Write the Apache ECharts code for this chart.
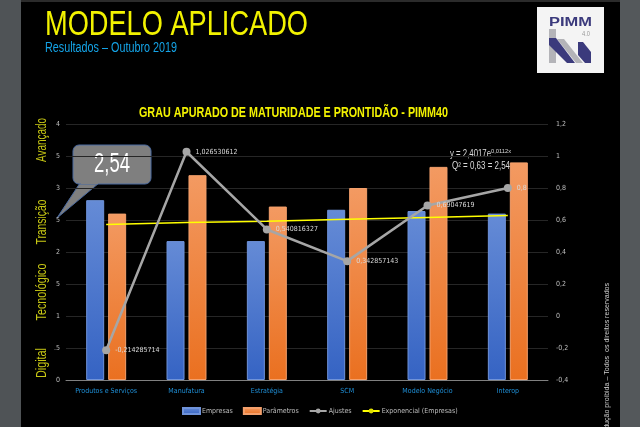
<!DOCTYPE html>
<html>
<head>
<meta charset="utf-8">
<script src="https://cdn.jsdelivr.net/npm/echarts@6/dist/echarts.min.js"></script>
<style>
html,body{margin:0;padding:0;background:#000;}
#c{width:640px;height:427px;}
</style>
</head>
<body>
<div id="c"></div>
<script>
const categories = ['Produtos e Serviços','Manufatura','Estratégia','SCM','Modelo Negócio','Interop'];
const empresas = [2.81, 2.17, 2.17, 2.66, 2.64, 2.60];
const parametros = [2.60, 3.20, 2.71, 3.00, 3.33, 3.40];
const ajustes = [-0.214285714, 1.026530612, 0.540816327, 0.342857143, 0.69047619, 0.8];
const exponencial = [2.43, 2.46, 2.48, 2.51, 2.54, 2.57];
const leftTickLabels = ['0', '.5', '1', '5', '2', '5', '3', '5', '4'];
const levelLabels = ['Avançado', 'Transição', 'Tecnológico', 'Digital'];

// --- font helpers ---
const mctx = document.createElement('canvas').getContext('2d');
function measure(text, font) { mctx.font = font; return mctx.measureText(text).width; }
function hasFont(name) {
  const s = 'abcdefghijMWLQ0123';
  const a = measure(s, '20px monospace'), b = measure(s, '20px serif');
  return measure(s, '20px "' + name + '", monospace') !== a && measure(s, '20px "' + name + '", serif') !== b;
}
const condensedCandidates = ['Liberation Sans Narrow', 'DejaVu Sans Condensed', 'Roboto Condensed', 'Open Sans Condensed', 'Arial Narrow'];
let COND = null;
for (const n of condensedCandidates) { if (hasFont(n)) { COND = n; break; } }
const SMALL = COND ? '"' + COND + '"' : '"Liberation Sans"';
const BASE = '"Liberation Sans", Arial, sans-serif';
function sizeFor(text, width, family, lo, hi) {
  const w10 = measure(text, '10px ' + family);
  return Math.max(lo, Math.min(hi, 10 * width / w10));
}
const catSize = sizeFor('Produtos e Serviços', 60, SMALL, 7, 9.5);
const legSize = sizeFor('Exponencial (Empresas)', 71, SMALL, 7, 9.5);
const lblSize = sizeFor('-0,214285714', 43, SMALL, 7, 9.5);
const tickSize = Math.min(catSize, 8.5);

// scaled text (graphic) fitted to a target width
function fitText(opts) {
  const w = measure(opts.text, opts.font);
  const sx = opts.width / w;
  return {
    type: 'text', x: opts.x, y: opts.y, rotation: opts.rotation || 0,
    scaleX: sx, scaleY: opts.scaleY || 1,
    style: {text: opts.text, fill: opts.fill, font: opts.font,
      textAlign: opts.align || 'left', textVerticalAlign: opts.valign || 'middle'}
  };
}

const comma = v => String(v).replace('.', ',');
const chart = echarts.init(document.getElementById('c'), null, {renderer: 'canvas'});

const levelPos = [140, 222, 292, 363];
const levelLen = [44, 45, 57, 30];
const graphics = [
  {type: 'rect', shape: {x: 0, y: 0, width: 21, height: 427}, style: {fill: '#4f5356'}},
  {type: 'rect', shape: {x: 620, y: 0, width: 20, height: 427}, style: {fill: '#54585b'}},
  {type: 'rect', shape: {x: 21, y: 0, width: 599, height: 2}, style: {fill: '#2b2b2b'}},
  fitText({text: 'MODELO APLICADO', font: '35px ' + BASE, width: 263, x: 45, y: 25, fill: '#f2f200'}),
  fitText({text: 'Resultados – Outubro 2019', font: '14px ' + BASE, width: 132, x: 45, y: 48.5, fill: '#14a3e6'}),
  fitText({text: 'GRAU APURADO DE MATURIDADE E PRONTIDÃO - PIMM40', font: 'bold 15px ' + BASE, width: 309, x: 139, y: 112.5, fill: '#f2f200'}),
  // logo
  {type: 'rect', shape: {x: 537, y: 7, width: 67, height: 66}, style: {fill: '#f4f4f4'}},
  fitText({text: 'PIMM', font: 'bold 13px ' + BASE, width: 43, x: 549, y: 22, fill: '#3b3a7c'}),
  fitText({text: '4.0', font: '7px ' + BASE, width: 8, x: 582, y: 34, fill: '#9a9a9a'}),
  {type: 'rect', shape: {x: 549, y: 29, width: 7, height: 34}, style: {fill: '#b4b4b8'}},
  {type: 'polygon', shape: {points: [[557,39],[564,39],[583,63],[576,63]]}, style: {fill: '#b4b4b8'}},
  {type: 'polygon', shape: {points: [[549,38],[556,38],[575,63],[567,63],[549,45]]}, style: {fill: '#3b3a7c'}},
  {type: 'polygon', shape: {points: [[578,42],[583,42],[591,52],[591,63],[585,63],[578,55]]}, style: {fill: '#3b3a7c'}},
  // callout
  {type: 'polygon', shape: {points: [[80,183],[99,183],[57,218]]}, style: {fill: '#7f7f7f', stroke: '#4a6aa0', lineWidth: 1}},
  {type: 'rect', shape: {x: 73, y: 145, width: 78, height: 39, r: 6}, style: {fill: '#7f7f7f', stroke: '#4a6aa0', lineWidth: 1}},
  {type: 'rect', shape: {x: 81, y: 181, width: 17, height: 3}, style: {fill: '#7f7f7f'}},
  fitText({text: '2,54', font: '27px ' + BASE, width: 36, x: 112, y: 165, fill: '#ffffff', align: 'center'}),
  // trend equation
  fitText({text: 'y = 2,4017e', font: '10px ' + BASE, width: 41, x: 450, y: 154, fill: '#d9d9d9'}),
  fitText({text: '0,0112x', font: '6px ' + BASE, width: 20, x: 491, y: 151, fill: '#d9d9d9'}),
  fitText({text: 'Q² = 0,63 = 2,54', font: '10px ' + BASE, width: 58, x: 452, y: 166, fill: '#d9d9d9'}),
  // vertical copyright
  fitText({text: 'Reprodução proibida – Todos  os direitos reservados', font: '8px ' + BASE, width: 165, x: 607, y: 283,
    rotation: Math.PI / 2, align: 'right', fill: '#d0d0d0'})
];
levelLabels.forEach((t, i) => {
  graphics.push(fitText({text: t, font: '14px ' + BASE, width: levelLen[i], x: 42, y: levelPos[i],
    rotation: Math.PI / 2, align: 'center', fill: '#c8c814'}));
});

const blueGrad = new echarts.graphic.LinearGradient(0, 0, 0, 1, [{offset: 0, color: '#658bd6'}, {offset: 1, color: '#3563c3'}]);
const orangeGrad = new echarts.graphic.LinearGradient(0, 0, 0, 1, [{offset: 0, color: '#f39a62'}, {offset: 1, color: '#ea7020'}]);

chart.setOption({
  backgroundColor: '#000',
  animation: false,
  grid: {left: 66, right: 92, top: 124, bottom: 47},
  legend: {
    left: 177, top: 402, itemGap: 10, itemWidth: 17, itemHeight: 6,
    textStyle: {color: '#bfbfbf', fontFamily: SMALL, fontSize: legSize, padding: [0, 0, 0, -3]},
    data: [
      {name: 'Empresas', icon: 'rect'},
      {name: 'Parâmetros', icon: 'rect'},
      {name: 'Ajustes'},
      {name: 'Exponencial (Empresas)'}
    ]
  },
  xAxis: {
    type: 'category', data: categories,
    axisLine: {lineStyle: {color: '#808080'}},
    axisTick: {show: false},
    axisLabel: {color: '#1f90d8', fontFamily: SMALL, fontSize: catSize, margin: 8, interval: 0}
  },
  yAxis: [
    {
      type: 'value', min: 0, max: 4, interval: 0.5,
      axisLine: {show: false}, axisTick: {show: false},
      splitLine: {lineStyle: {color: '#262626'}},
      axisLabel: {color: '#bfbfbf', fontFamily: SMALL, fontSize: tickSize, margin: 6,
        formatter: v => leftTickLabels[Math.round(v / 0.5)]}
    },
    {
      type: 'value', min: -0.4, max: 1.2, interval: 0.2,
      axisLine: {show: false}, axisTick: {show: false}, splitLine: {show: false},
      axisLabel: {color: '#bfbfbf', fontFamily: SMALL, fontSize: tickSize, margin: 8,
        formatter: v => comma(Math.round(v * 10) / 10)}
    }
  ],
  series: [
    {name: 'Empresas', type: 'bar', data: empresas, barWidth: 18, barGap: '22%',
      itemStyle: {color: blueGrad, borderColor: '#6f93da', borderWidth: 1}},
    {name: 'Parâmetros', type: 'bar', data: parametros, barWidth: 18,
      itemStyle: {color: orangeGrad, borderColor: '#f4a06c', borderWidth: 1}},
    {name: 'Exponencial (Empresas)', type: 'line', data: exponencial, showSymbol: false, symbol: 'none',
      itemStyle: {color: '#e0e000'}, lineStyle: {color: '#ffff00', width: 1.5}, z: 3},
    {name: 'Ajustes', type: 'line', yAxisIndex: 1, data: ajustes, symbol: 'circle', symbolSize: 8,
      itemStyle: {color: '#a6a6a6'}, lineStyle: {color: '#a6a6a6', width: 2.5}, z: 4,
      label: {show: true, position: 'right', distance: 5, color: '#d9d9d9', fontFamily: SMALL, fontSize: lblSize,
        formatter: p => comma(p.value)}}
  ],
  graphic: graphics
});
</script>
</body>
</html>
